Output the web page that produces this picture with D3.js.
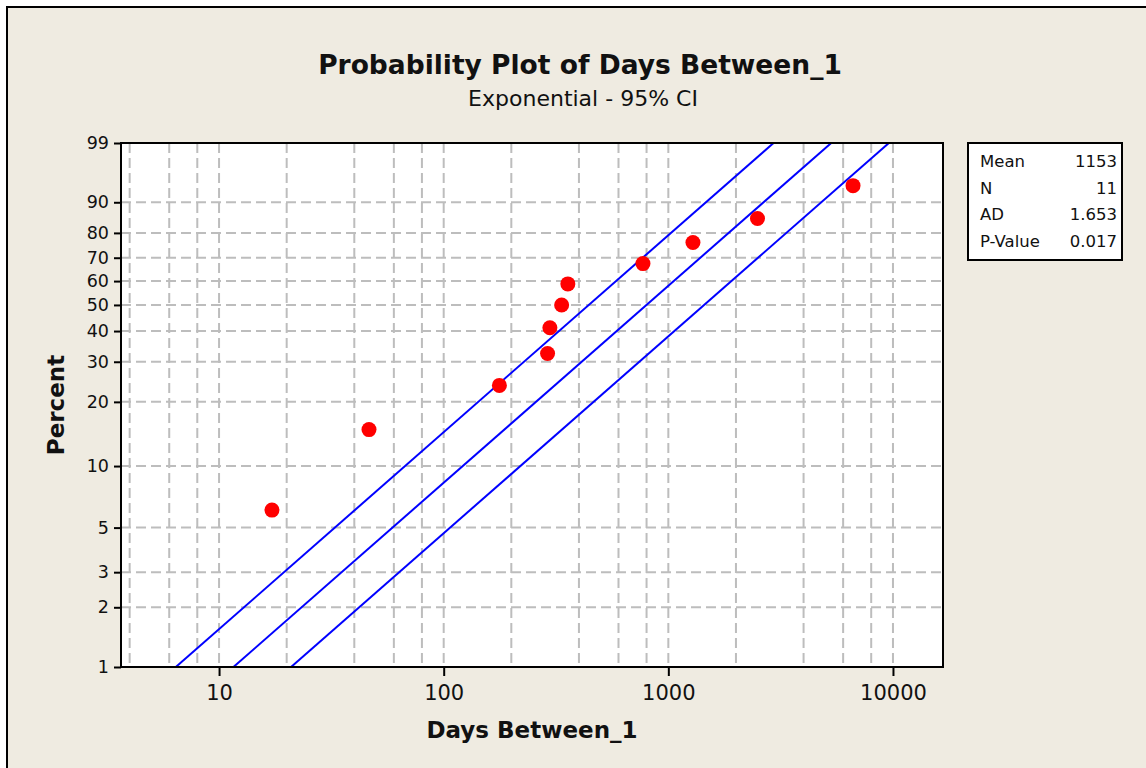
<!DOCTYPE html>
<html>
<head>
<meta charset="utf-8">
<script src="https://cdn.jsdelivr.net/npm/d3@7"></script>
<style>
  html, body { margin: 0; padding: 0; background: #fff; }
  svg { display: block; }
  text { font-family: "DejaVu Sans", Verdana, sans-serif; fill: #111; }
</style>
</head>
<body>
<div id="chart"></div>
<script>
// observed days between events and their plotted percents
var days     = [17.2, 46.5, 177, 290, 297, 335, 357, 771, 1287, 2494, 6640];
var percents = [6.1, 14.9, 23.7, 32.5, 41.2, 50.0, 58.8, 67.5, 76.3, 85.1, 93.9];

// fitted line and 95% CI, as days at 1% and at 99%
var fitNames = ['lower', 'fit', 'upper'];
var fitAt1   = [6.42, 11.59, 20.92];
var fitAt99  = [2940, 5310, 9590];

var xTicks = [10, 100, 1000, 10000];
var xGrid  = [4, 6, 8, 10, 20, 40, 60, 80, 100, 200, 400, 600, 800, 1000, 2000, 4000, 6000, 8000, 10000];
var yTicks = [1, 2, 3, 5, 10, 20, 30, 40, 50, 60, 70, 80, 90, 99];

var statLabels = ['Mean', 'N', 'AD', 'P-Value'];
var statValues = ['1153', '11', '1.653', '0.017'];

var W = 1146, H = 768;
var plot = { left: 121, right: 943, top: 143, bottom: 667 };

// exponential probability scale
function pt(p) { return Math.log(-Math.log(1 - p / 100)); }

var x = d3.scaleLog().domain([3.66, 16700]).range([plot.left, plot.right]);
var y = d3.scaleLinear().domain([pt(1), pt(99)]).range([plot.bottom, plot.top]);

var svg = d3.select('#chart').append('svg')
    .attr('width', W)
    .attr('height', H);

// figure background and frame
svg.append('rect')
    .attr('x', 7).attr('y', 7)
    .attr('width', 1200).attr('height', 800)
    .attr('fill', '#efebe1')
    .attr('stroke', '#000')
    .attr('stroke-width', 2);

svg.append('rect')
    .attr('x', plot.left).attr('y', plot.top)
    .attr('width', plot.right - plot.left)
    .attr('height', plot.bottom - plot.top)
    .attr('fill', '#fff');

// grid
var grid = svg.append('g')
    .attr('stroke', '#bdbdbd')
    .attr('stroke-width', 2)
    .attr('stroke-dasharray', '10,5');

grid.selectAll('line.v')
    .data(xGrid)
    .enter().append('line')
    .attr('class', 'v')
    .attr('x1', function (d) { return x(d); })
    .attr('x2', function (d) { return x(d); })
    .attr('y1', plot.top)
    .attr('y2', plot.bottom);

grid.selectAll('line.h')
    .data(yTicks.slice(1, -1))
    .enter().append('line')
    .attr('class', 'h')
    .attr('x1', plot.left)
    .attr('x2', plot.right)
    .attr('y1', function (d) { return y(pt(d)); })
    .attr('y2', function (d) { return y(pt(d)); });

// fit lines
svg.append('clipPath').attr('id', 'clip').append('rect')
    .attr('x', plot.left).attr('y', plot.top)
    .attr('width', plot.right - plot.left)
    .attr('height', plot.bottom - plot.top);

svg.append('g').attr('clip-path', 'url(#clip)')
    .selectAll('line')
    .data(fitNames)
    .enter().append('line')
    .attr('x1', function (d, i) { return x(fitAt1[i]); })
    .attr('y1', y(pt(1)))
    .attr('x2', function (d, i) { return x(fitAt99[i]); })
    .attr('y2', y(pt(99)))
    .attr('stroke', '#0000ff')
    .attr('stroke-width', 2);

// points
svg.append('g').selectAll('circle')
    .data(days)
    .enter().append('circle')
    .attr('cx', function (d) { return x(d); })
    .attr('cy', function (d, i) { return y(pt(percents[i])); })
    .attr('r', 7.5)
    .attr('fill', '#ff0000');

// plot border
svg.append('rect')
    .attr('x', plot.left).attr('y', plot.top)
    .attr('width', plot.right - plot.left)
    .attr('height', plot.bottom - plot.top)
    .attr('fill', 'none')
    .attr('stroke', '#000')
    .attr('stroke-width', 2);

// axes
var gx = svg.append('g')
    .attr('transform', 'translate(0,' + plot.bottom + ')')
    .call(d3.axisBottom(x)
        .tickValues(xTicks)
        .tickFormat(d3.format('d'))
        .tickSize(9)
        .tickPadding(9));
gx.select('.domain').remove();
gx.selectAll('line').attr('stroke', '#000').attr('stroke-width', 2);
gx.selectAll('text').style('font-size', '21px').attr('fill', '#111');

var gy = svg.append('g')
    .attr('transform', 'translate(' + plot.left + ',0)')
    .call(d3.axisLeft(y)
        .tickValues(yTicks.map(pt))
        .tickFormat(function (d, i) { return yTicks[i]; })
        .tickSize(7)
        .tickPadding(5));
gy.select('.domain').remove();
gy.selectAll('line').attr('stroke', '#000').attr('stroke-width', 2);
gy.selectAll('text').style('font-size', '17.5px').attr('fill', '#111');

// titles
svg.append('text')
    .attr('x', 580).attr('y', 74)
    .attr('text-anchor', 'middle')
    .style('font-size', '26.5px')
    .style('font-weight', 'bold')
    .text('Probability Plot of Days Between_1');

svg.append('text')
    .attr('x', 583).attr('y', 106)
    .attr('text-anchor', 'middle')
    .style('font-size', '22px')
    .text('Exponential - 95% CI');

svg.append('text')
    .attr('x', (plot.left + plot.right) / 2).attr('y', 738)
    .attr('text-anchor', 'middle')
    .style('font-size', '23px')
    .style('font-weight', 'bold')
    .text('Days Between_1');

svg.append('text')
    .attr('transform', 'translate(64,' + ((plot.top + plot.bottom) / 2) + ') rotate(-90)')
    .attr('text-anchor', 'middle')
    .style('font-size', '23px')
    .style('font-weight', 'bold')
    .text('Percent');

// stats box
var box = svg.append('g').attr('transform', 'translate(968,143)');
box.append('rect')
    .attr('width', 154).attr('height', 117)
    .attr('fill', '#fff')
    .attr('stroke', '#000')
    .attr('stroke-width', 2);

box.selectAll('text.lab')
    .data(statLabels)
    .enter().append('text')
    .attr('class', 'lab')
    .attr('x', 12)
    .attr('y', function (d, i) { return 24 + i * 26.5; })
    .style('font-size', '16.5px')
    .text(function (d) { return d; });

box.selectAll('text.val')
    .data(statValues)
    .enter().append('text')
    .attr('class', 'val')
    .attr('x', 149)
    .attr('y', function (d, i) { return 24 + i * 26.5; })
    .attr('text-anchor', 'end')
    .style('font-size', '16.5px')
    .text(function (d) { return d; });
</script>
</body>
</html>
